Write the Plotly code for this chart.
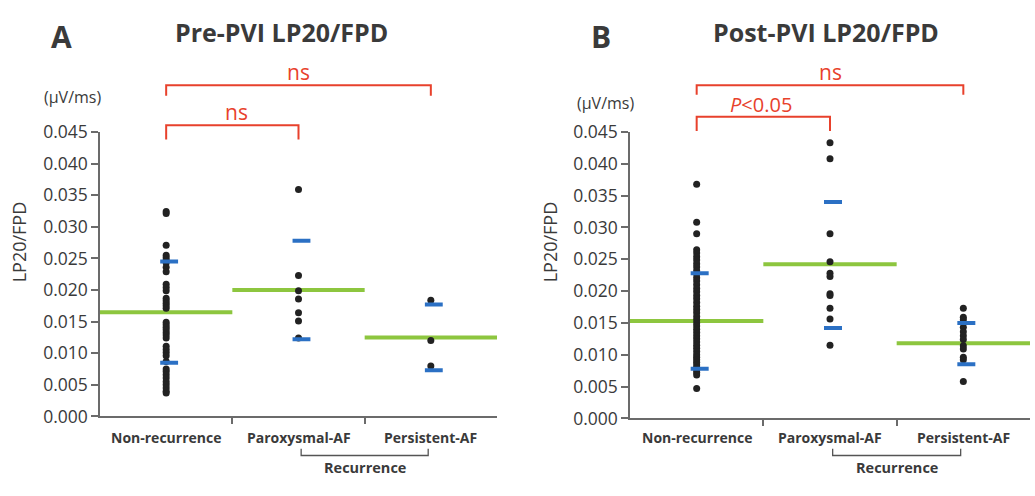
import plotly.graph_objects as go

# ---------------- data ----------------
categories = ["Non-recurrence", "Paroxysmal-AF", "Persistent-AF"]
cat_pos = [0.5, 1.5, 2.5]
y_ticks = [0.000, 0.005, 0.010, 0.015, 0.020, 0.025, 0.030, 0.035, 0.040, 0.045]

pre_nonrec = [0.0324, 0.0321, 0.0271, 0.0255, 0.0251, 0.0247, 0.0243, 0.0236, 0.0229,
              0.0209, 0.0204, 0.0199, 0.0187, 0.0183, 0.0179, 0.0175, 0.0171, 0.0149,
              0.0145, 0.0141, 0.0137, 0.0133, 0.0129, 0.0124, 0.0111, 0.0106, 0.0101,
              0.0096, 0.0087, 0.0075, 0.0071, 0.0066, 0.0061, 0.0055, 0.0050, 0.0045,
              0.0040, 0.0037]
pre_parox = [0.0359, 0.0223, 0.0199, 0.0186, 0.0164, 0.0151, 0.0124]
pre_persist = [0.0184, 0.0120, 0.0080]
pre_mean = [0.0165, 0.0200, 0.0125]
pre_sd_hi = [0.0245, 0.0278, 0.0177]
pre_sd_lo = [0.0085, 0.0122, 0.0073]

post_nonrec = [0.0368, 0.0308, 0.0290, 0.0265, 0.0260, 0.0254, 0.0249, 0.0243, 0.0238,
               0.0232, 0.0227, 0.0221, 0.0216, 0.0210, 0.0204, 0.0199, 0.0193, 0.0188,
               0.0182, 0.0176, 0.0171, 0.0166, 0.0160, 0.0155, 0.0150, 0.0145, 0.0140,
               0.0135, 0.0130, 0.0125, 0.0120, 0.0115, 0.0110, 0.0105, 0.0100, 0.0096,
               0.0092, 0.0088, 0.0084, 0.0080, 0.0076, 0.0072, 0.0068, 0.0047]
post_parox = [0.0433, 0.0408, 0.0290, 0.0246, 0.0228, 0.0223, 0.0196, 0.0193, 0.0173,
              0.0156, 0.0115]
post_persist = [0.0173, 0.0159, 0.0155, 0.0143, 0.0136, 0.0130, 0.0124, 0.0114, 0.0109,
                0.0096, 0.0092, 0.0058]
post_mean = [0.0153, 0.0242, 0.0118]
post_sd_hi = [0.0228, 0.0340, 0.0150]
post_sd_lo = [0.0078, 0.0142, 0.0085]

# ---------------- styling ----------------
FONT = "Open Sans"
TXT = "#3a3a3a"
AX = "#6b6b6b"
RED = "#e8412c"
GREEN = "#8dc63f"
BLUE = "#2b70c4"
DOT = "#222222"
W, H = 1035, 496

def py(p):
    return 1 - p / H

fig = go.Figure()

panels = [
    dict(xa="x", ya="y", groups=[pre_nonrec, pre_parox, pre_persist],
         mean=pre_mean, hi=pre_sd_hi, lo=pre_sd_lo),
    dict(xa="x2", ya="y2", groups=[post_nonrec, post_parox, post_persist],
         mean=post_mean, hi=post_sd_hi, lo=post_sd_lo),
]

for p in panels:
    for i, vals in enumerate(p["groups"]):
        c = cat_pos[i]
        # mean line spanning the category bin
        fig.add_trace(go.Scatter(x=[c - 0.5, c + 0.5], y=[p["mean"][i]] * 2, mode="lines",
                                 line=dict(color=GREEN, width=4), xaxis=p["xa"], yaxis=p["ya"],
                                 showlegend=False, hoverinfo="skip"))
        # dots
        fig.add_trace(go.Scatter(x=[c] * len(vals), y=vals, mode="markers",
                                 marker=dict(color=DOT, size=7), xaxis=p["xa"], yaxis=p["ya"],
                                 showlegend=False, cliponaxis=False))
        # SD marks
        for v in (p["hi"][i], p["lo"][i]):
            fig.add_trace(go.Scatter(x=[c - 0.045, c + 0.09], y=[v, v], mode="lines",
                                     line=dict(color=BLUE, width=4), xaxis=p["xa"], yaxis=p["ya"],
                                     showlegend=False, hoverinfo="skip"))

xcommon = dict(range=[0, 3], tickvals=[1, 2], ticktext=["", ""], ticks="outside", ticklen=6,
               tickcolor=AX, tickwidth=1.5, showline=True, linecolor=AX, linewidth=1.5,
               showgrid=False, zeroline=False, fixedrange=True)
ycommon = dict(range=[0, 0.045], tickvals=y_ticks, tickformat=".3f", ticks="outside", ticklen=7,
               tickcolor=AX, tickwidth=1.5, showline=True, linecolor=AX, linewidth=1.5,
               showgrid=False, zeroline=False, tickfont=dict(family=FONT, size=17.5, color=TXT),
               fixedrange=True)

fig.update_layout(
    width=W, height=H, margin=dict(l=0, r=0, t=0, b=0),
    paper_bgcolor="white", plot_bgcolor="white",
    xaxis=dict(domain=[100 / W, 497 / W], anchor="y", **xcommon),
    yaxis=dict(domain=[py(424), py(125)], anchor="x", **ycommon),
    xaxis2=dict(domain=[630 / W, 1030 / W], anchor="y2", **xcommon),
    yaxis2=dict(domain=[py(426), py(125)], anchor="x2", **ycommon),
)

ann = []
shapes = []

def text(x, y, t, size, xref="paper", color=TXT, bold=False, angle=0):
    if bold:
        t = "<b>" + t + "</b>"
    ann.append(dict(x=x, y=y, xref=xref, yref="paper", text=t, showarrow=False,
                    font=dict(family=FONT, size=size, color=color), textangle=angle,
                    xanchor="center", yanchor="middle"))

def bracket(xref, x0, x1, ytop, ybot, color, width):
    shapes.append(dict(type="path", xref=xref, yref="paper",
                       path=f"M {x0},{ybot} L {x0},{ytop} L {x1},{ytop} L {x1},{ybot}",
                       line=dict(color=color, width=width)))

# panel letters and titles
text(61 / W, py(25), "A", 30, bold=True)
text(281 / W, py(20), "Pre-PVI LP20/FPD", 25, bold=True)
text(601 / W, py(25), "B", 30, bold=True)
text(826 / W, py(20), "Post-PVI LP20/FPD", 25, bold=True)

# units and y titles
text(72 / W, py(88), "(µV/ms)", 16)
text(605 / W, py(95), "(µV/ms)", 16)
text(19 / W, py(241), "LP20/FPD", 18, angle=-90)
text(550 / W, py(241), "LP20/FPD", 18, angle=-90)

# category labels and recurrence brackets
for xa in ("x", "x2"):
    for c, name in zip(cat_pos, categories):
        text(c, py(446), name, 14, xref=xa, bold=True)
    bracket(xa, 1.52, 2.48, py(465), py(458), "#555555", 1.3)
    text(2.0, py(478), "Recurrence", 14.5, xref=xa, bold=True)

# significance brackets
bracket("x", 0.5, 2.5, py(76), py(87), RED, 2)
text(1.5, py(62), "ns", 21, xref="x", color=RED)
bracket("x", 0.5, 1.5, py(118), py(133), RED, 2)
text(1.03, py(104), "ns", 21, xref="x", color=RED)

bracket("x2", 0.5, 2.5, py(76), py(86), RED, 2)
text(1.5, py(62), "ns", 21, xref="x2", color=RED)
bracket("x2", 0.5, 1.5, py(109), py(124), RED, 2)
text(0.98, py(96), "<i>P</i><0.05", 20, xref="x2", color=RED)

fig.update_layout(annotations=ann, shapes=shapes)
fig.write_html("out.html")
